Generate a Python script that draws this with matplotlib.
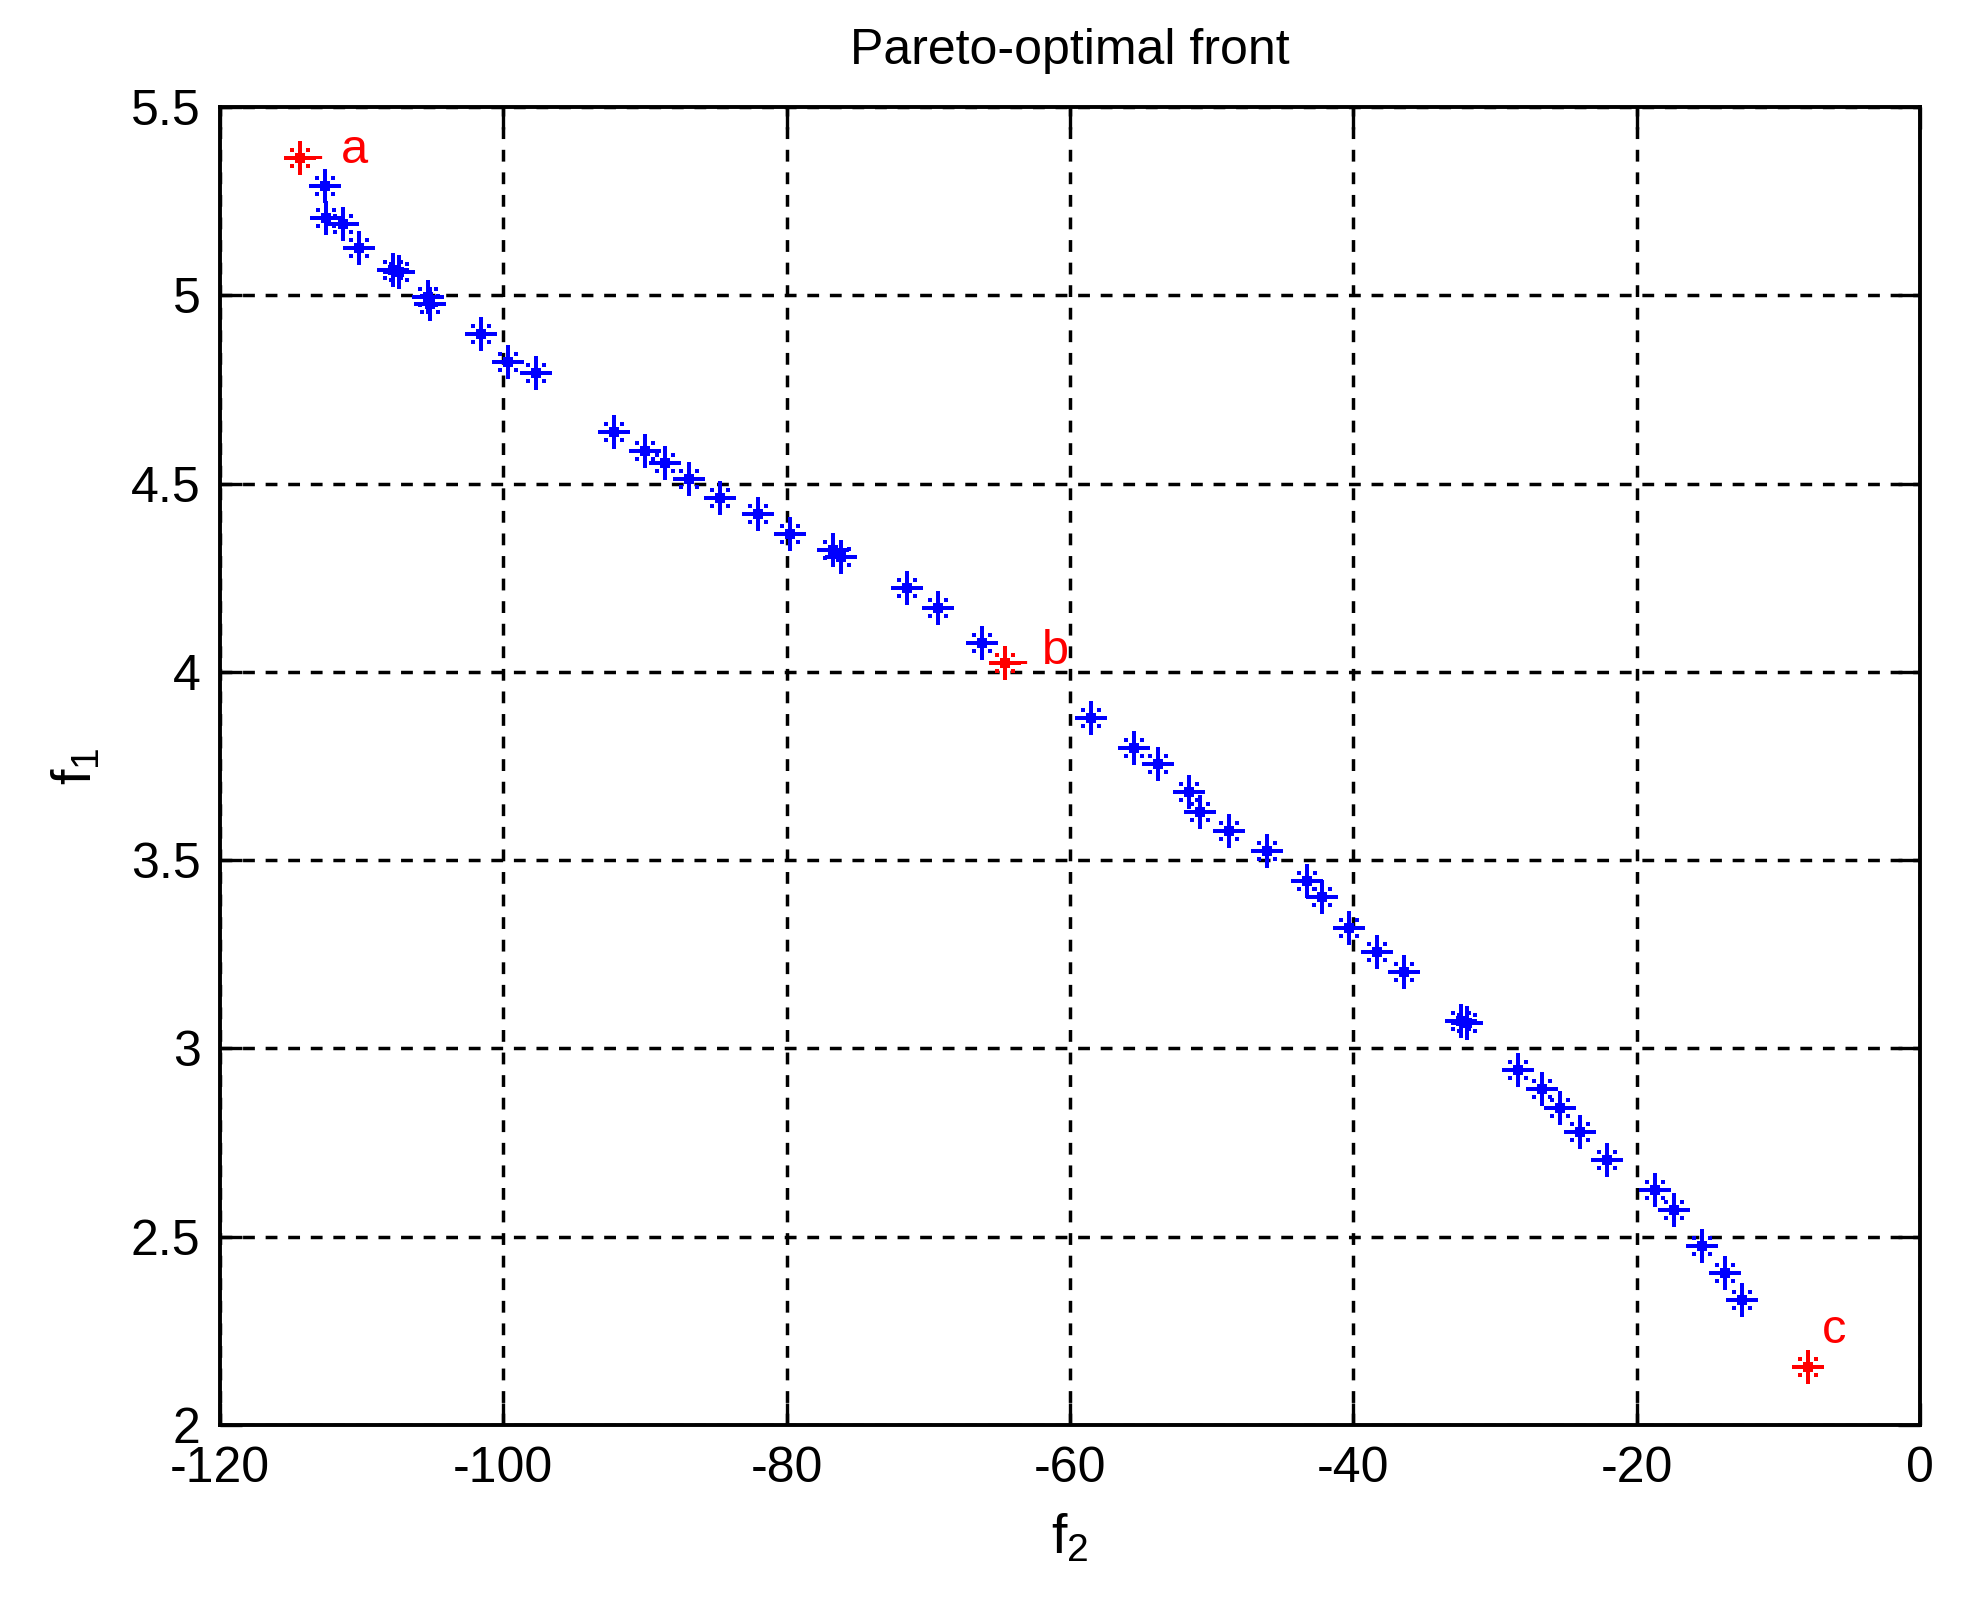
import matplotlib
matplotlib.use("Agg")
import matplotlib.pyplot as plt
from matplotlib.path import Path

plt.rcParams['font.family'] = ['Liberation Sans', 'DejaVu Sans']
plt.rcParams['mathtext.default'] = 'regular'

# Pareto front points (blue)
f2_front = [-112.6, -112.5, -111.3, -110.2, -107.8, -107.4, -105.3, -105.2,
            -101.6, -99.7, -97.7,
            -92.2, -90.0, -88.6, -86.9, -84.7, -82.0, -79.8, -76.7, -76.2,
            -71.5, -69.3, -66.2,
            -58.5, -55.5, -53.8, -51.6, -50.8, -48.8, -46.1, -43.3, -42.2,
            -40.3, -38.3, -36.4, -32.4, -32.0,
            -28.4, -26.7, -25.4, -24.0, -22.1, -18.7, -17.4, -15.4, -13.8, -12.6]
f1_front = [5.29, 5.206, 5.188, 5.126, 5.067, 5.062, 4.996, 4.978,
            4.896, 4.823, 4.793,
            4.638, 4.586, 4.554, 4.512, 4.461, 4.418, 4.366, 4.323, 4.306,
            4.222, 4.169, 4.076,
            3.878, 3.797, 3.754, 3.682, 3.629, 3.577, 3.525, 3.444, 3.401,
            3.319, 3.255, 3.204, 3.074, 3.068,
            2.944, 2.892, 2.841, 2.779, 2.705, 2.624, 2.571, 2.476, 2.404, 2.332]

# Highlighted solutions (red)
f2_special = [-114.35, -64.58, -7.94]
f1_special = [5.364, 4.024, 2.155]
special_labels = ['a', 'b', 'c']
label_f2 = [-111.5, -61.95, -6.9]
label_f1 = [5.351, 4.021, 2.218]
# short pointer dashes next to a and b
dash_f2 = [-113.35, -63.6]
dash_f1 = [5.364, 4.024]

xticks = [-120, -100, -80, -60, -40, -20, 0]
xtick_labels = ['-120', '-100', '-80', '-60', '-40', '-20', '0']
yticks = [2, 2.5, 3, 3.5, 4, 4.5, 5, 5.5]
ytick_labels = ['2', '2.5', '3', '3.5', '4', '4.5', '5', '5.5']


def asterisk_marker():
    """MATLAB-like '*' marker as rendered at low resolution: plus + dotted diagonals."""
    def rect(x0, x1, y0, y1):
        return [(x0, y0), (x1, y0), (x1, y1), (x0, y1), (x0, y0)]
    t = 1.8
    polys = [rect(-16, 16, -t, t), rect(-t, t, -17, 17), rect(-5, 5, -5, 5)]
    for sx in (-1, 1):
        for sy in (-1, 1):
            cx, cy = 8 * sx, 8 * sy
            polys.append(rect(cx - 1.7, cx + 1.7, cy - 1.7, cy + 1.7))
    verts, codes = [], []
    for p in polys:
        verts += p
        codes += [Path.MOVETO] + [Path.LINETO] * 3 + [Path.CLOSEPOLY]
    return Path(verts, codes)


star = asterisk_marker()

fig = plt.figure(figsize=(19.64, 16.11), dpi=100)
ax = fig.add_axes([220/1964, 1 - 1425/1611, 1700/1964, 1318/1611])

ms = 24.5
ax.plot(f2_front, f1_front, linestyle='none', marker=star, color='#0000ff',
        markersize=ms, markeredgewidth=0, zorder=3)
ax.plot(f2_special, f1_special, linestyle='none', marker=star, color='#ff0000',
        markersize=ms, markeredgewidth=0, zorder=3)

for x, y, s in zip(label_f2, label_f1, special_labels):
    ax.text(x, y, s, color='#ff0000', fontsize=35, ha='left', va='baseline')
for x, y in zip(dash_f2, dash_f1):
    ax.text(x, y, '-', color='#ff0000', fontsize=20, fontweight='bold',
            ha='left', va='center')

ax.set_xlim(-120, 0)
ax.set_ylim(2, 5.5)
ax.set_xticks(xticks)
ax.set_xticklabels(xtick_labels)
ax.set_yticks(yticks)
ax.set_yticklabels(ytick_labels)

ax.grid(True, color='black', linestyle=(0, (3.4, 3.1)), linewidth=2.5)
ax.set_axisbelow(True)
ax.tick_params(direction='in', length=16, width=2.4, top=True, right=True,
               labelsize=36, colors='black')
ax.tick_params(axis='x', pad=15)
ax.tick_params(axis='y', pad=14)

for sp in ax.spines.values():
    sp.set_linewidth(2.8)
    sp.set_color('black')

ax.set_title('Pareto-optimal front', fontsize=36, pad=31)
ax.set_xlabel('f$_2$', fontsize=40, labelpad=15)
ax.set_ylabel('f$_1$', fontsize=40, labelpad=20)

fig.savefig('out.png', dpi=100)
